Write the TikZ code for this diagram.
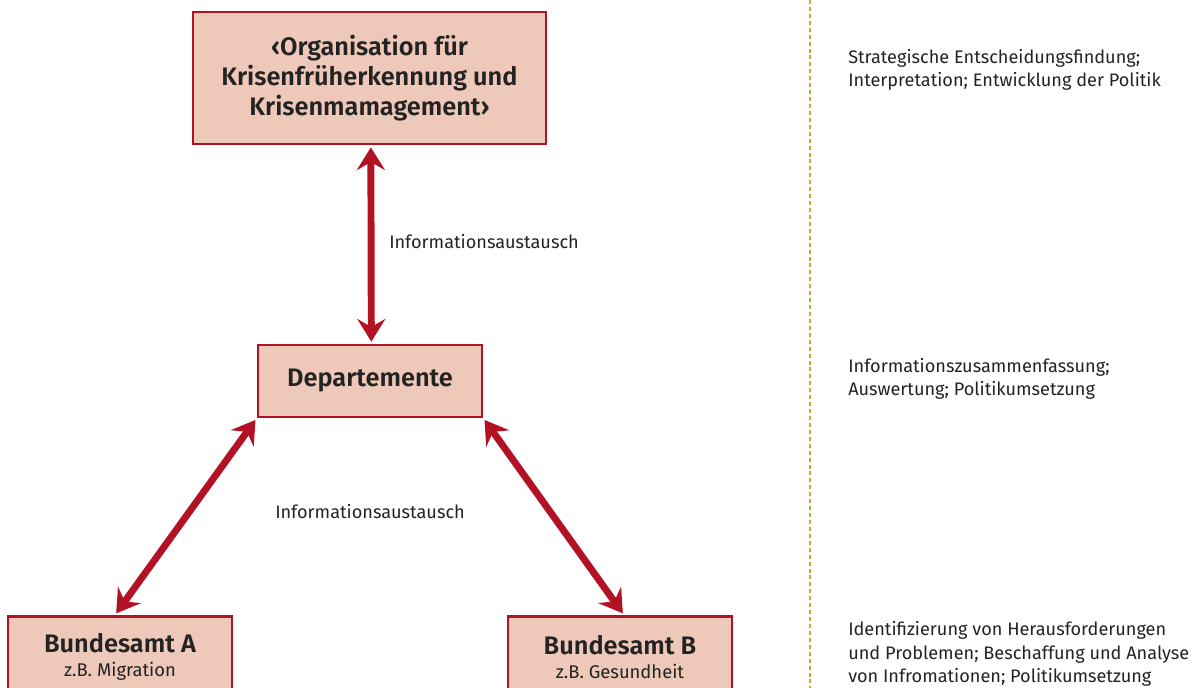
\documentclass[tikz,border=0pt]{standalone}
\usepackage{fontspec}
\setmainfont{Fira Sans}[BoldFont={Fira Sans SemiBold}]
\usetikzlibrary{arrows.meta}
\definecolor{boxred}{RGB}{178,18,36}
\definecolor{boxfill}{RGB}{238,200,184}
\definecolor{dotgold}{RGB}{200,168,50}
\definecolor{inkgray}{RGB}{35,35,35}

\begin{document}
\begin{tikzpicture}[x=0.75pt,y=0.75pt,yscale=-1,xscale=1,
  box/.style={draw=boxred, fill=boxfill, line width=2pt, align=center, inner sep=0pt, text=inkgray},
  boxtitle/.style={font=\fontsize{19}{22.5}\selectfont\bfseries},
  subbox/.style={font=\fontsize{13.8}{18}\selectfont},
  exarrow/.style={draw=boxred, line width=5.2pt,
    {Stealth[length=17pt,width=21pt,inset=6pt]}-{Stealth[length=17pt,width=21pt,inset=6pt]},
    shorten <=1.5pt, shorten >=1.5pt},
  lbl/.style={anchor=west, font=\fontsize{13.6}{17}\selectfont, text=inkgray, inner sep=0pt},
  note/.style={anchor=west, align=left, font=\fontsize{13.6}{17.6}\selectfont, text=inkgray, inner sep=0pt},
  dotline/.style={draw=dotgold, line width=2.2pt, dash pattern=on 3pt off 2.2pt}
]
\useasboundingbox (0,0) rectangle (1195,688);
\clip (0,0) rectangle (1195,688);

%Shape: Rectangle [org]
\node[box, boxtitle, minimum width=264.75pt, minimum height=99pt] (org) at (369.5,78)
  {‹Organisation für\\Krisenfrüherkennung und\\Krisenmamagement›};
%Shape: Rectangle [dep]
\node[box, boxtitle, minimum width=168pt, minimum height=54pt] (dep) at (370,381) {Departemente};
%Shape: Rectangle [bundA]
\node[box, subbox, anchor=north, minimum width=168pt, minimum height=61.5pt] (bundA) at (120,615)
  {{\fontsize{19}{20}\selectfont\bfseries Bundesamt A}\\z.B. Migration};
%Shape: Rectangle [bundB]
\node[box, subbox, anchor=north, minimum width=168pt, minimum height=61.5pt] (bundB) at (620,615)
  {{\fontsize{19}{20}\selectfont\bfseries Bundesamt B}\\z.B. Gesundheit};

%Straight Lines
\draw[exarrow] ([xshift=1pt]org.south) -- ([xshift=1pt]dep.north);
\draw[exarrow] (dep.south west) -- ([xshift=-3.75pt]bundA.north);
\draw[exarrow] (dep.south east) -- ([xshift=3pt]bundB.north);

%Dotted separator
\draw[dotline] (810,0) -- (810,688);

% Text Node
\node[lbl] (info1) at (389,242) {Informationsaustausch};
% Text Node
\node[lbl] (info2) at (275,512) {Informationsaustausch};
% Text Node
\node[note] (lvl1) at (848,70) {Strategische Entscheidungsfindung;\\Interpretation; Entwicklung der Politik};
% Text Node
\node[note] (lvl2) at (848,379) {Informationszusammenfassung;\\Auswertung; Politikumsetzung};
% Text Node
\node[note] (lvl3) at (848,654) {Identifizierung von Herausforderungen\\und Problemen; Beschaffung und Analyse\\von Infromationen; Politikumsetzung};

\end{tikzpicture}
\end{document}
